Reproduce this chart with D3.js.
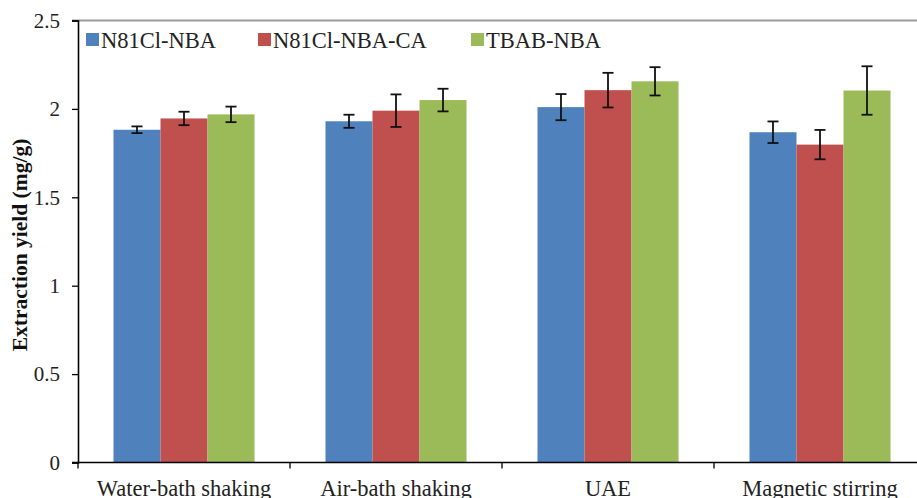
<!DOCTYPE html>
<html><head><meta charset="utf-8">
<script src="https://cdn.jsdelivr.net/npm/d3@7"></script>
<style>body{margin:0;background:#fff}svg{display:block}</style>
</head><body>
<svg id="chart" width="917" height="498"></svg>
<script>
const categories = ["Water-bath shaking", "Air-bath shaking", "UAE", "Magnetic stirring"];
const seriesNames = ["N81Cl-NBA", "N81Cl-NBA-CA", "TBAB-NBA"];
const seriesColors = ["#4F81BD", "#C0504D", "#9BBB59"];
const valuesN81 = [1.882, 1.930, 2.010, 1.868];
const valuesN81CA = [1.946, 1.990, 2.106, 1.798];
const valuesTBAB = [1.969, 2.050, 2.156, 2.104];
const errN81 = [0.019, 0.037, 0.074, 0.061];
const errN81CA = [0.038, 0.092, 0.098, 0.083];
const errTBAB = [0.044, 0.064, 0.080, 0.137];
const yTicks = [0, 0.5, 1, 1.5, 2, 2.5];

const allValues = [valuesN81, valuesN81CA, valuesTBAB];
const allErr = [errN81, errN81CA, errTBAB];

const svg = d3.select("#chart");
const m = {left: 78, top: 20.5, bottom: 462.5};
const step = 212;
const x0 = d3.scaleBand().domain(categories).range([m.left, m.left + step * categories.length]).padding(0);
const x1 = d3.scaleBand().domain(seriesNames).range([0, x0.bandwidth()]).paddingInner(0).paddingOuter(0.755);
const y = d3.scaleLinear().domain([0, 2.5]).range([m.bottom, m.top]);

const font = "'Liberation Serif','Times New Roman',serif";

// top border of plot area
svg.append("line").attr("x1", 72).attr("x2", 917).attr("y1", y(2.5)).attr("y2", y(2.5))
  .attr("stroke", "#9a9a9a").attr("stroke-width", 2.2);

// bars
const data = [];
categories.forEach((c, i) => seriesNames.forEach((s, j) => data.push({c, s, j, v: allValues[j][i], e: allErr[j][i]})));
svg.append("g").selectAll("rect").data(data).join("rect")
  .attr("x", d => x0(d.c) + x1(d.s)).attr("width", x1.bandwidth())
  .attr("y", d => y(d.v)).attr("height", d => y(0) - y(d.v))
  .attr("fill", d => seriesColors[d.j]);

// error bars
const eg = svg.append("g").attr("stroke", "#111").attr("stroke-width", 1.8);
data.forEach(d => {
  const cx = x0(d.c) + x1(d.s) + x1.bandwidth() / 2;
  eg.append("line").attr("x1", cx).attr("x2", cx).attr("y1", y(d.v + d.e)).attr("y2", y(d.v - d.e));
  [d.v + d.e, d.v - d.e].forEach(t => eg.append("line").attr("x1", cx - 5.5).attr("x2", cx + 5.5).attr("y1", y(t)).attr("y2", y(t)));
});

// y axis
const ya = svg.append("g").attr("transform", `translate(${m.left},0)`)
  .call(d3.axisLeft(y).tickValues(yTicks).tickFormat(d => String(d)).tickSize(6).tickPadding(12));
ya.select(".domain").attr("stroke", "#000").attr("stroke-width", 1.6);
ya.selectAll(".tick line").attr("stroke", "#000").attr("stroke-width", 1.3);
ya.selectAll("text").attr("font-family", font).attr("font-size", 21).attr("fill", "#222");

// x axis
const xa = svg.append("g").attr("transform", `translate(0,${m.bottom})`)
  .call(d3.axisBottom(x0).tickSize(0).tickPadding(18).tickSizeOuter(0));
xa.select(".domain").attr("stroke", "#000").attr("stroke-width", 1.6).attr("d", `M72,0H${m.left + step * 4}`);
xa.selectAll("text").attr("font-family", font).attr("font-size", 22.5).attr("fill", "#222");
const bounds = d3.range(categories.length + 1).map(i => m.left + i * step);
xa.selectAll(".bound").data(bounds).join("line").attr("class", "bound")
  .attr("x1", d => d).attr("x2", d => d).attr("y1", 0).attr("y2", 6)
  .attr("stroke", "#000").attr("stroke-width", 1.3);

// y title
svg.append("text").attr("transform", `translate(27,${245}) rotate(-90)`)
  .attr("text-anchor", "middle").attr("font-family", font).attr("font-weight", "bold")
  .attr("font-size", 21.5).attr("fill", "#111").text("Extraction yield (mg/g)");

// legend
const legX = [86, 258, 471];
const lg = svg.append("g");
seriesNames.forEach((s, j) => {
  lg.append("rect").attr("x", legX[j]).attr("y", 33).attr("width", 13).attr("height", 13).attr("fill", seriesColors[j]);
  lg.append("text").attr("x", legX[j] + 15).attr("y", 47.5).attr("font-family", font).attr("font-size", 22.5)
    .attr("fill", "#222").text(s);
});
</script>
</body></html>
